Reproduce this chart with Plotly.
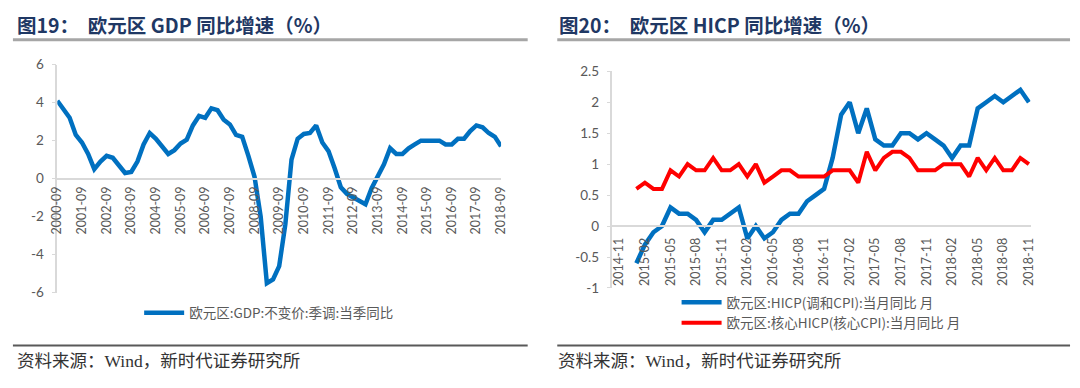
import plotly.graph_objects as go

# ---------------- data ----------------
gdp_quarters = [f"{y}-{m:02d}" for y in range(2000, 2019) for m in (3, 6, 9, 12)]
gdp_quarters = gdp_quarters[gdp_quarters.index("2000-09"):gdp_quarters.index("2018-09") + 1]
gdp_yoy = [4.1, 3.6, 3.2, 2.3, 1.9, 1.3, 0.5, 0.9, 1.2, 1.1, 0.7, 0.3,
           0.35, 0.9, 1.8, 2.4, 2.1, 1.7, 1.3, 1.5, 1.85, 2.05, 2.8, 3.3,
           3.2, 3.7, 3.6, 3.1, 2.85, 2.3, 2.2, 1.2, 0.1, -2.0, -5.5, -5.3,
           -4.6, -2.4, 1.0, 2.1, 2.35, 2.4, 2.8, 1.9, 1.45, 0.55, -0.45, -0.8,
           -1.0, -1.15, -1.35, -0.5, 0.1, 0.75, 1.6, 1.3, 1.3, 1.6, 1.8, 2.0,
           2.0, 2.0, 2.0, 1.8, 1.8, 2.1, 2.1, 2.5, 2.8, 2.7, 2.4, 2.2, 1.7]
gdp_ticks = [f"{y}-09" for y in range(2000, 2019)]
gdp_yticks = [-6, -4, -2, 0, 2, 4, 6]
gdp_name = "欧元区:GDP:不变价:季调:当季同比"

months = [f"{y}-{m:02d}" for y in range(2014, 2019) for m in range(1, 13)]
months = months[months.index("2014-11"):months.index("2018-11") + 1]
hicp = [None, None,
        -0.6, -0.3, -0.1, 0.0, 0.3, 0.2, 0.2, 0.1, -0.1, 0.1, 0.1, 0.2,
        0.3, -0.2, 0.0, -0.2, -0.1, 0.1, 0.2, 0.2, 0.4, 0.5, 0.6, 1.1,
        1.8, 2.0, 1.5, 1.9, 1.4, 1.3, 1.3, 1.5, 1.5, 1.4, 1.5, 1.4,
        1.3, 1.1, 1.3, 1.3, 1.9, 2.0, 2.1, 2.0, 2.1, 2.2, 2.0]
core = [None, None,
        0.6, 0.7, 0.6, 0.6, 0.9, 0.8, 1.0, 0.9, 0.9, 1.1, 0.9, 0.9,
        1.0, 0.8, 1.0, 0.7, 0.8, 0.9, 0.9, 0.8, 0.8, 0.8, 0.8, 0.9,
        0.9, 0.9, 0.7, 1.2, 0.9, 1.1, 1.2, 1.2, 1.1, 0.9, 0.9, 0.9,
        1.0, 1.0, 1.0, 0.8, 1.1, 0.9, 1.1, 0.9, 0.9, 1.1, 1.0]
hicp_ticks = months[::3]
hicp_yticks = [-1, -0.5, 0, 0.5, 1, 1.5, 2, 2.5]
hicp_name = "欧元区:HICP(调和CPI):当月同比 月"
core_name = "欧元区:核心HICP(核心CPI):当月同比 月"

title_left = "图19：  欧元区 GDP 同比增速（%）"
title_right = "图20：  欧元区 HICP 同比增速（%）"
source_text = "资料来源：Wind，新时代证券研究所"

# ---------------- layout helpers ----------------
W, H = 1080, 388
def px(x): return x / W
def py(y): return 1 - y / H
def fmt(v): return f"{v:g}".replace("\u2212", "-")

BLUE = "#0070C0"
RED = "#FF0000"
AXIS = "#D9D9D9"
TXT = "#595959"
CJK = "Noto Sans CJK SC"

fig = go.Figure()
fig.add_trace(go.Scatter(x=gdp_quarters, y=gdp_yoy, mode="lines", name=gdp_name,
                         line=dict(color=BLUE, width=4.5), xaxis="x", yaxis="y",
                         legend="legend"))
fig.add_trace(go.Scatter(x=months, y=hicp, mode="lines", name=hicp_name,
                         line=dict(color=BLUE, width=4.5), xaxis="x2", yaxis="y2",
                         legend="legend2"))
fig.add_trace(go.Scatter(x=months, y=core, mode="lines", name=core_name,
                         line=dict(color=RED, width=4), xaxis="x2", yaxis="y2",
                         legend="legend2"))

tickfont = dict(family="Lato, Open Sans, sans-serif", size=12.5, color=TXT)
ytickfont = dict(family="Lato, Open Sans, sans-serif", size=13.5, color=TXT)

L_top, L_bot = 59, 297
R_top, R_bot = 66, 292
fig.update_layout(
    width=W, height=H, margin=dict(l=0, r=0, t=0, b=0),
    paper_bgcolor="white", plot_bgcolor="white",
    xaxis=dict(domain=[px(50), px(500)], type="category", range=[0, len(gdp_quarters) - 1],
               anchor="free", position=py((L_top + L_bot) / 2),
               tickmode="array", tickvals=gdp_ticks, ticktext=gdp_ticks, tickangle=-90,
               showline=True, linecolor=AXIS, linewidth=1.5, ticks="", showgrid=False,
               zeroline=False, tickfont=tickfont, ticklabelstandoff=2),
    yaxis=dict(domain=[py(L_bot), py(L_top)], range=[-6, 6], anchor="x",
               tickmode="array", tickvals=gdp_yticks, ticktext=[fmt(v) for v in gdp_yticks],
               showline=True, linecolor=AXIS, linewidth=1.5,
               ticks="outside", ticklen=4, tickcolor=AXIS, showgrid=False, zeroline=False,
               tickfont=ytickfont, ticklabelstandoff=5),
    xaxis2=dict(domain=[px(613), px(1037)], type="category", range=[-0.8, 48.2],
                anchor="free", position=py(R_bot - (R_bot - R_top) / 3.5),
                tickmode="array", tickvals=hicp_ticks, ticktext=hicp_ticks, tickangle=-90,
                showline=True, linecolor=AXIS, linewidth=1.5, ticks="", showgrid=False,
                zeroline=False, tickfont=tickfont, ticklabelstandoff=6),
    yaxis2=dict(domain=[py(R_bot), py(R_top)], range=[-1, 2.5], anchor="x2",
                tickmode="array", tickvals=hicp_yticks, ticktext=[fmt(v) for v in hicp_yticks],
                showline=True, linecolor=AXIS, linewidth=1.5,
                ticks="outside", ticklen=4, tickcolor=AXIS, showgrid=False, zeroline=False,
                tickfont=ytickfont, ticklabelstandoff=5),
    legend=dict(x=px(133), y=py(302), xanchor="left", yanchor="top",
                font=dict(family=CJK, size=13.5, color=TXT), bgcolor="rgba(0,0,0,0)",
                itemwidth=40, tracegroupgap=0),
    legend2=dict(x=px(678), y=py(291), xanchor="left", yanchor="top",
                 font=dict(family=CJK, size=13.5, color=TXT), bgcolor="rgba(0,0,0,0)",
                 itemwidth=40, tracegroupgap=0),
    showlegend=True,
)

# titles and source notes
title_font = dict(family=CJK, size=19.5, color="#1F3864")
fig.add_annotation(text=f"<b>{title_left}</b>", x=px(7), y=py(17), xref="paper", yref="paper",
                   xanchor="left", yanchor="middle", showarrow=False, font=title_font)
fig.add_annotation(text=f"<b>{title_right}</b>", x=px(557), y=py(17), xref="paper", yref="paper",
                   xanchor="left", yanchor="middle", showarrow=False, font=title_font)
src_font = dict(family="Liberation Serif, " + CJK, size=17.5, color="#333333")
fig.add_annotation(text=source_text, x=px(7), y=py(368), xref="paper", yref="paper",
                   xanchor="left", yanchor="middle", showarrow=False, font=src_font)
fig.add_annotation(text=source_text, x=px(556), y=py(368), xref="paper", yref="paper",
                   xanchor="left", yanchor="middle", showarrow=False, font=src_font)

# separator lines
for x0, x1 in [(5, 527), (557, 1077)]:
    fig.add_shape(type="line", xref="paper", yref="paper", x0=px(x0), x1=px(x1),
                  y0=py(33), y1=py(33), line=dict(color="#A6A6A6", width=3))
    fig.add_shape(type="line", xref="paper", yref="paper", x0=px(x0), x1=px(x1),
                  y0=py(352), y1=py(352), line=dict(color="#595959", width=2))

fig.write_html("out.html", config={"displayModeBar": False},
               post_script="document.body.style.margin='0';document.body.style.overflow='hidden';")
